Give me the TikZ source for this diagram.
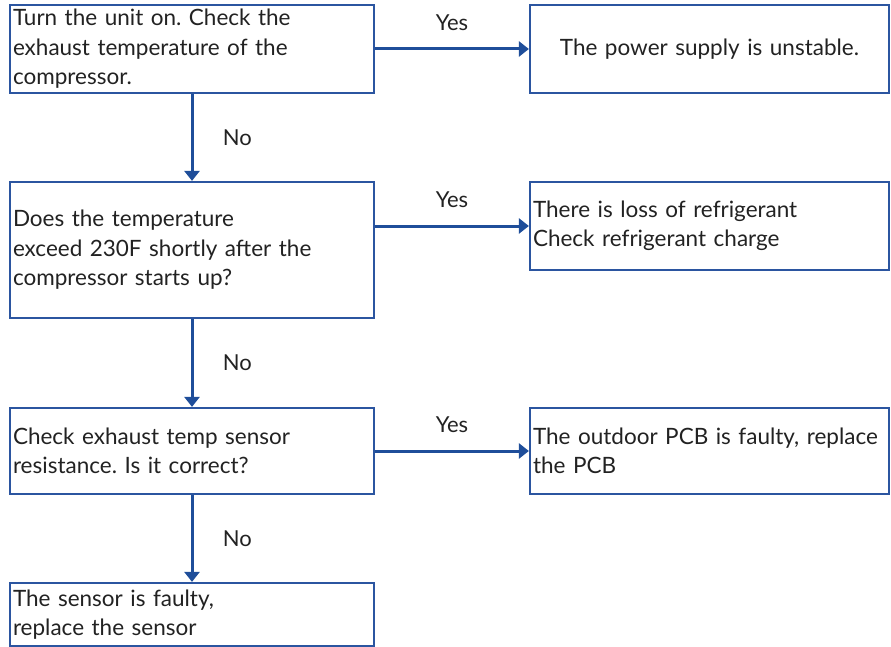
\documentclass[tikz,border=0pt]{standalone}
\usepackage{fontspec}
\setmainfont{Lato}
\usetikzlibrary{arrows.meta,positioning}

\definecolor{frame}{HTML}{2B55A0}
\definecolor{flow}{HTML}{1F4E9A}
\definecolor{ink}{HTML}{222222}

\begin{document}
\frenchspacing
\begin{tikzpicture}[x=1pt,y=-1pt,
        font=\fontsize{22.5}{29.5}\selectfont, text=ink,
        arrow/.style={-{Triangle[length=10pt,width=15pt]}, line width=3pt, draw=flow},
        box/.style={draw=frame, line width=2.2pt, minimum width=364pt, text width=358pt,
                   inner xsep=3pt, inner ysep=0pt, align=left},
        result/.style={draw=frame, line width=2.2pt, minimum width=359pt, text width=353pt,
                   inner xsep=3pt, inner ysep=0pt, align=left},
        lbl/.style={font=\fontsize{22}{24}\selectfont}
    ]
        \useasboundingbox (0,0) rectangle (891,647);

        \node[box, minimum height=88pt] (start) at (192,49) {Turn the unit on. Check the\\exhaust temperature of the\\compressor.};
        \node[box, minimum height=136pt] (exceed) at (192,250) {Does the temperature\\exceed 230F shortly after the\\compressor starts up?};
        \node[box, minimum height=86pt] (sensor) at (192,451) {Check exhaust temp sensor\\resistance. Is it correct?};
        \node[box, minimum height=63pt] (faulty) at (192,614.5) {The sensor is faulty,\\replace the sensor};

        \node[result, minimum height=88pt, align=center] (power) at (709.5,49) {The power supply is unstable.};
        \node[result, minimum height=88pt] (refrig) at (709.5,226) {There is loss of refrigerant\\Check refrigerant charge};
        \node[result, minimum height=86pt] (pcb) at (709.5,451) {The outdoor PCB is faulty, replace\\the PCB};

        \draw[arrow] (start) -- node[lbl, right=26pt] {No} (exceed);
        \draw[arrow] (exceed) -- node[lbl, right=26pt] {No} (sensor);
        \draw[arrow] (sensor) -- node[lbl, right=26pt] {No} (faulty);

        \draw[arrow] (start) -- node[lbl, above=13pt] {Yes} (power);
        \draw[arrow] (exceed.east |- refrig) -- node[lbl, above=13pt] {Yes} (refrig);
        \draw[arrow] (sensor) -- node[lbl, above=13pt] {Yes} (pcb);
    \end{tikzpicture}
\end{document}
